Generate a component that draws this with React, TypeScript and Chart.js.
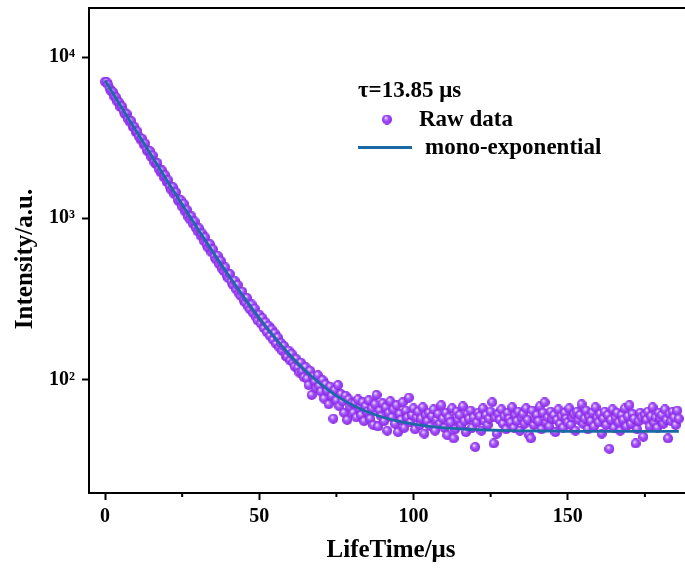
import React, { useEffect, useRef } from "react";
import { Chart, registerables } from "chart.js";

Chart.register(...registerables);

// ---------- data ----------
const rawStartTime = 0; // µs, first channel
const rawTimeStep = 0.5; // µs per channel
const rawIntensity = [
  7050, 7010, 6750, 6380, 6150, 6080, 5700, 5650, 5300, 5260,
  4900, 4950, 4610, 4420, 4450, 4120, 3980, 4010, 3690, 3700,
  3420, 3460, 3210, 3080, 3120, 2870, 2910, 2660, 2590, 2620,
  2400, 2450, 2230, 2170, 2200, 2010, 1930, 1980, 1800, 1850,
  1680, 1720, 1570, 1500, 1560, 1410, 1450, 1310, 1270, 1300,
  1180, 1230, 1100, 1130, 1020, 985, 1030, 925, 955, 870,
  830, 865, 780, 805, 725, 760, 680, 655, 690, 615,
  640, 575, 555, 585, 520, 545, 485, 470, 495, 440,
  425, 450, 400, 385, 410, 362, 385, 340, 330, 350,
  308, 300, 320, 282, 272, 292, 258, 275, 243, 232,
  252, 222, 240, 208, 226, 196, 215, 186, 204, 176,
  193, 166, 182, 158, 168, 150, 161, 140, 138, 151,
  131, 144, 127, 120, 134, 118, 110, 127, 112, 103,
  119, 101, 92, 113, 80, 104, 97, 88, 106, 91,
  84, 99, 76, 93, 85, 70, 90, 79, 57, 86,
  74, 92, 68, 81, 73, 62, 79, 56, 75, 67,
  71, 62, 71, 58, 75, 66, 60, 72, 55, 68,
  63, 74, 57, 66, 52, 70, 80, 51, 64, 59,
  71, 55, 67, 48, 62, 73, 58, 65, 53, 69,
  47, 61, 56, 72, 50, 64, 58, 77, 54, 60,
  66, 49, 58, 63, 52, 57, 67, 46, 60, 55,
  62, 51, 59, 65, 48, 56, 61, 53, 69, 57,
  50, 62, 45, 58, 54, 66, 43, 49, 63, 56,
  60, 52, 68, 55, 47, 61, 57, 64, 50, 58,
  38, 54, 62, 59, 48, 66, 55, 60, 52, 57,
  63, 72, 40, 58, 46, 61, 56, 65, 53, 59,
  49, 62, 57, 54, 67, 50, 60, 55, 63, 48,
  58, 61, 53, 66, 56, 45, 43, 64, 52, 57,
  60, 55, 68, 49, 62, 72, 54, 58, 51, 63,
  57, 60, 47, 56, 65, 53, 59, 50, 62, 57,
  54, 66, 52, 58, 61, 48, 63, 56, 60, 70,
  53, 57, 64, 49, 59, 55, 62, 51, 67, 58,
  54, 61, 46, 57, 63, 52, 60, 37, 56, 65,
  50, 58, 62, 54, 48, 60, 56, 66, 51, 59,
  69, 53, 61, 57, 40, 49, 55, 62, 58, 44,
  60, 56, 63, 51, 59, 67, 54, 58, 50, 62,
  57, 60, 53, 65, 56, 43, 61, 55, 63, 58,
  52, 64, 57,
];

const fitTime = [
  0, 2, 4, 6, 8, 10, 12, 14, 16, 18, 20, 22, 24, 26, 28, 30, 32, 34, 36, 38, 40,
  42, 44, 46, 48, 50, 52, 54, 56, 58, 60, 62, 64, 66, 68, 70, 72, 74, 76, 78, 80,
  85, 90, 95, 100, 105, 110, 115, 120, 125, 130, 135, 140, 145, 150, 155, 160,
  165, 170, 175, 180, 185, 186,
];
const fitIntensity = [
  7177.5, 6218.9, 5389.2, 4671.0, 4049.4, 3511.3, 3045.6, 2642.5, 2293.6, 1991.6,
  1730.2, 1504.0, 1308.1, 1138.6, 991.9, 864.9, 755.0, 659.9, 577.5, 506.3, 444.6,
  391.2, 345.0, 305.0, 270.3, 240.4, 214.4, 192.0, 172.6, 155.7, 141.2, 128.6,
  117.7, 108.2, 100.1, 93.0, 86.9, 81.6, 77.0, 73.0, 69.6,
  62.9, 58.2, 55.0, 52.7, 51.1, 50.0, 49.3, 48.7, 48.4, 48.1, 47.9, 47.8, 47.7,
  47.6, 47.6, 47.6, 47.5, 47.5, 47.5, 47.5, 47.5, 47.5,
];

const lifetimeText = "τ=13.85 μs";
const seriesNames = ["Raw data", "mono-exponential"];
const xTitle = "LifeTime/μs";
const yTitle = "Intensity/a.u.";
const xTickStep = 25;
const xLabelEvery = 50;
const yTickValues = [100, 1000, 10000];
const yTickLabels = ["10²", "10³", "10⁴"];
const xRange = [-5.2, 188];
const yRange = [19.7, 20200];

// ---------- styles ----------
const FONT = '"Liberation Serif", "Times New Roman", Times, serif';
const LINE_COLOR = "#1b6aa5";

function makeBall(d: number): HTMLCanvasElement {
  const c = document.createElement("canvas");
  c.width = d;
  c.height = d;
  const g = c.getContext("2d")!;
  const r = d / 2;
  const grad = g.createRadialGradient(r * 0.72, r * 0.62, 0, r, r, r);
  grad.addColorStop(0, "#fbf4ff");
  grad.addColorStop(0.18, "#d7b2ff");
  grad.addColorStop(0.45, "#a557fb");
  grad.addColorStop(0.85, "#9234ec");
  grad.addColorStop(1, "#7a1fd2");
  g.fillStyle = grad;
  g.beginPath();
  g.arc(r, r, r, 0, Math.PI * 2);
  g.fill();
  return c;
}

export default function App() {
  const ref = useRef<HTMLCanvasElement | null>(null);

  useEffect(() => {
    if (!ref.current) return;
    const ball = makeBall(10);
    const legendBall = makeBall(10);

    const rawPoints = rawIntensity.map((v, i) => ({ x: rawStartTime + i * rawTimeStep, y: v }));
    const fitPoints = fitTime.map((t, i) => ({ x: t, y: fitIntensity[i] }));

    const decorPlugin = {
      id: "decor",
      afterDraw(chart: any) {
        const { ctx, chartArea: a, scales } = chart;
        ctx.save();
        // top frame line
        ctx.strokeStyle = "#000";
        ctx.lineWidth = 2;
        ctx.beginPath();
        ctx.moveTo(a.left - 1, a.top);
        ctx.lineTo(a.right + 2, a.top);
        ctx.stroke();
        // minor x ticks
        const xs = scales.x;
        ctx.beginPath();
        xs.ticks.forEach((t: any) => {
          if (t.value % xLabelEvery !== 0) {
            const px = xs.getPixelForValue(t.value);
            ctx.moveTo(px, a.bottom);
            ctx.lineTo(px, a.bottom + 4);
          }
        });
        ctx.stroke();

        // axis titles
        ctx.fillStyle = "#000";
        ctx.font = `bold 25px ${FONT}`;
        ctx.textAlign = "center";
        ctx.textBaseline = "alphabetic";
        ctx.fillText(xTitle, 391, 557);
        ctx.save();
        ctx.translate(32, 259);
        ctx.rotate(-Math.PI / 2);
        ctx.fillText(yTitle, 0, 0);
        ctx.restore();

        // legend
        ctx.font = `bold 23px ${FONT}`;
        ctx.textAlign = "left";
        ctx.fillText(lifetimeText, 358, 97);
        ctx.drawImage(legendBall, 387 - 5, 119.5 - 5);
        ctx.fillText(seriesNames[0], 419, 126);
        ctx.strokeStyle = LINE_COLOR;
        ctx.lineWidth = 2.8;
        ctx.beginPath();
        ctx.moveTo(358, 147.5);
        ctx.lineTo(412, 147.5);
        ctx.stroke();
        ctx.fillText(seriesNames[1], 425, 154);
        ctx.restore();
      },
    };

    const chart = new Chart(ref.current, {
      type: "scatter",
      data: {
        datasets: [
          {
            label: seriesNames[1],
            data: fitPoints,
            showLine: true,
            borderColor: LINE_COLOR,
            borderWidth: 2.8,
            pointRadius: 0,
            cubicInterpolationMode: "monotone",
            fill: false,
          } as any,
          {
            label: seriesNames[0],
            data: rawPoints,
            showLine: false,
            pointStyle: ball,
            pointRadius: 5,
          } as any,
        ],
      },
      options: {
        animation: false,
        responsive: false,
        layout: { autoPadding: false, padding: { top: 8, left: 0, right: 0, bottom: 0 } },
        plugins: {
          legend: { display: false },
          tooltip: { enabled: false },
        },
        scales: {
          x: {
            type: "linear",
            min: xRange[0],
            max: xRange[1],
            afterFit: (s: any) => {
              s.height = 76;
              s.paddingLeft = 0;
              s.paddingRight = 0;
            },
            border: { display: true, color: "#000", width: 2 },
            grid: {
              drawOnChartArea: false,
              drawTicks: true,
              tickLength: 7,
              tickWidth: 2,
              tickColor: (c: any) =>
                c.tick && c.tick.value % xLabelEvery === 0 ? "#000" : "rgba(0,0,0,0)",
            },
            ticks: {
              stepSize: xTickStep,
              includeBounds: false,
              autoSkip: false,
              maxRotation: 0,
              padding: 5,
              color: "#000",
              font: { family: FONT, size: 20, weight: "bold" },
              callback: (v: any) => (Number(v) % xLabelEvery === 0 ? String(v) : ""),
            },
          },
          y: {
            type: "logarithmic",
            min: yRange[0],
            max: yRange[1],
            afterFit: (s: any) => {
              s.width = 89;
              s.paddingTop = 0;
              s.paddingBottom = 0;
            },
            afterBuildTicks: (s: any) => {
              s.ticks = yTickValues.map((v) => ({ value: v }));
            },
            border: { display: true, color: "#000", width: 2 },
            grid: {
              drawOnChartArea: false,
              drawTicks: true,
              tickLength: 7,
              tickWidth: 2,
              tickColor: "#000",
            },
            ticks: {
              autoSkip: false,
              padding: 7,
              color: "#000",
              font: { family: FONT, size: 20, weight: "bold" },
              callback: (v: any) => {
                const i = yTickValues.indexOf(Number(v));
                return i >= 0 ? yTickLabels[i] : "";
              },
            },
          },
        },
      },
      plugins: [decorPlugin],
    } as any);

    return () => chart.destroy();
  }, []);

  return (
    <div style={{ position: "fixed", left: 0, top: 0, width: 685, height: 569, background: "#fff" }}>
      <canvas ref={ref} width={685} height={569} style={{ display: "block" }} />
    </div>
  );
}
